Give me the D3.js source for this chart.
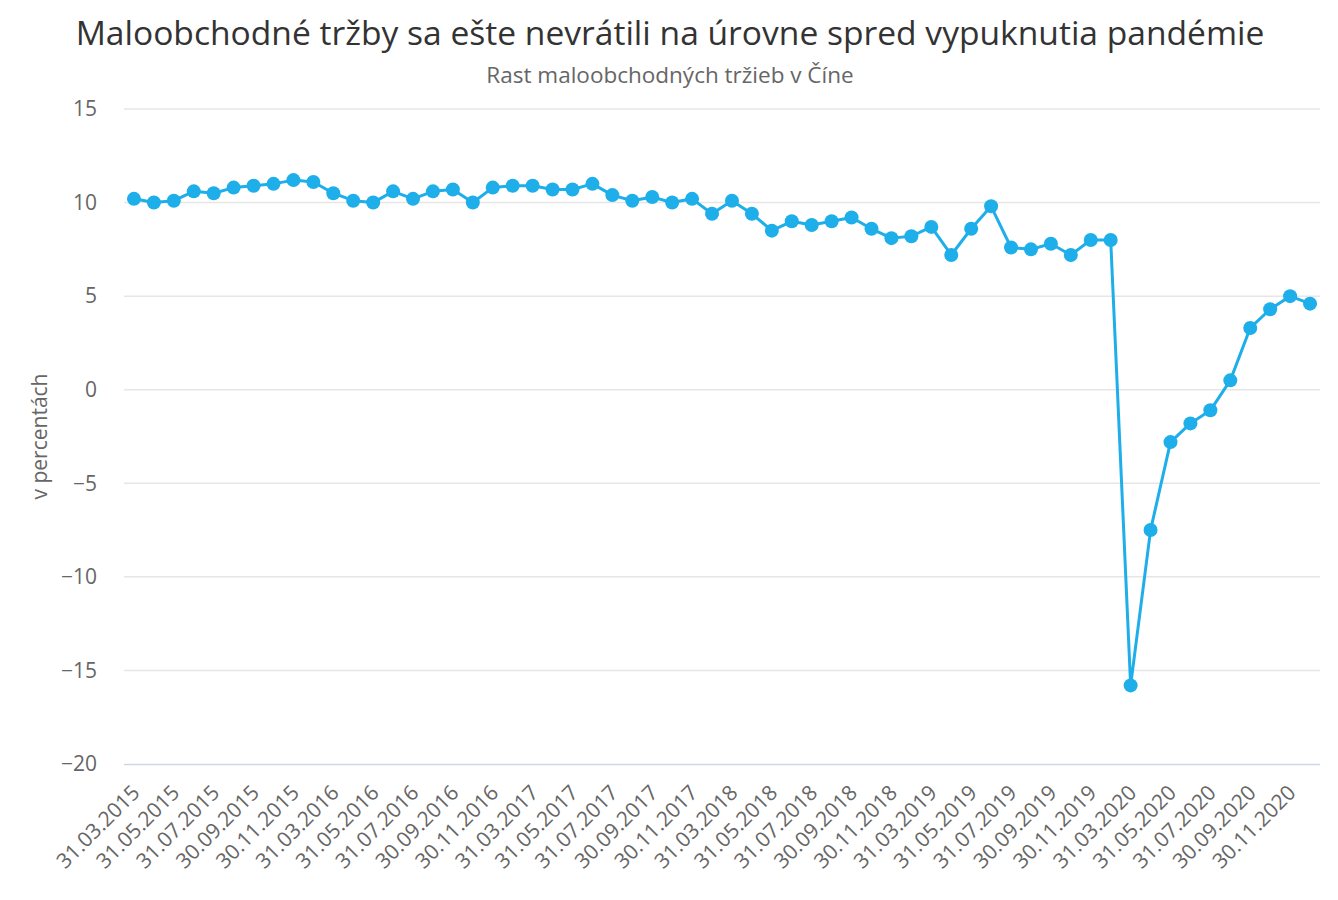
<!DOCTYPE html>
<html><head><meta charset="utf-8">
<script src="https://cdn.jsdelivr.net/npm/d3@7"></script>
<style>body{margin:0;background:#fff;} svg{display:block;font-family:"Open Sans",sans-serif;}</style>
</head><body><svg id="c" width="1338" height="900"></svg>
<script>
const years = [2015, 2016, 2017, 2018, 2019, 2020];
const monthEnds = ["31.03", "30.04", "31.05", "30.06", "31.07", "31.08", "30.09", "31.10", "30.11", "31.12"];
const categories = years.flatMap(y => monthEnds.map(m => m + "." + y));
const values = [
  10.2, 10.0, 10.1, 10.6, 10.5, 10.8, 10.9, 11.0, 11.2, 11.1,
  10.5, 10.1, 10.0, 10.6, 10.2, 10.6, 10.7, 10.0, 10.8, 10.9,
  10.9, 10.7, 10.7, 11.0, 10.4, 10.1, 10.3, 10.0, 10.2, 9.4,
  10.1, 9.4, 8.5, 9.0, 8.8, 9.0, 9.2, 8.6, 8.1, 8.2,
  8.7, 7.2, 8.6, 9.8, 7.6, 7.5, 7.8, 7.2, 8.0, 8.0,
  -15.8, -7.5, -2.8, -1.8, -1.1, 0.5, 3.3, 4.3, 5.0, 4.6
];
const yTicks = [15, 10, 5, 0, -5, -10, -15, -20];
const title = "Maloobchodné tržby sa ešte nevrátili na úrovne spred vypuknutia pandémie";
const subtitle = "Rast maloobchodných tržieb v Číne";
const yTitle = "v percentách";

const svg = d3.select("#c");
const L = 124, R = 1320, T = 109, B = 764;
const x = d3.scaleBand().domain(categories).range([L, R]);
const y = d3.scaleLinear().domain([-20, 15]).range([B, T]);

svg.append("text").attr("x", 670).attr("y", 45).attr("text-anchor", "middle")
  .attr("font-size", 33.6).attr("fill", "#333").text(title);
svg.append("text").attr("x", 670).attr("y", 83).attr("text-anchor", "middle")
  .attr("font-size", 22.5).attr("fill", "#666").text(subtitle);

// grid
svg.append("g").selectAll("line").data(yTicks.filter(t => t !== -20)).join("line")
  .attr("x1", L).attr("x2", R).attr("y1", d => y(d)).attr("y2", d => y(d))
  .attr("stroke", "#e6e6e6").attr("stroke-width", 1.5);

// y axis
const ya = svg.append("g").attr("transform", `translate(${L},0)`)
  .call(d3.axisLeft(y).tickValues(yTicks).tickSize(0).tickPadding(27).tickFormat(d => d < 0 ? "−" + Math.abs(d) : d));
ya.select(".domain").remove();
ya.selectAll("text").attr("font-size", 21).attr("fill", "#666").attr("font-family", "Open Sans");

svg.append("text").attr("transform", `translate(47,${(T + B) / 2}) rotate(-90)`)
  .attr("text-anchor", "middle").attr("font-size", 21).attr("fill", "#666").text(yTitle);

// x axis
svg.append("line").attr("x1", L).attr("x2", R).attr("y1", B + 0.5).attr("y2", B + 0.5)
  .attr("stroke", "#ccd6eb").attr("stroke-width", 1.5);
const xa = svg.append("g").attr("transform", `translate(0,${B})`)
  .call(d3.axisBottom(x).tickValues(categories.filter((c, i) => i % 2 === 0)).tickSize(0));
xa.select(".domain").remove();
xa.selectAll("text").attr("font-size", 21).attr("fill", "#666").attr("font-family", "Open Sans")
  .attr("text-anchor", "end").attr("dy", null).attr("y", 0)
  .attr("transform", "translate(7,30) rotate(-45)");

// line
const cx = d => x(d) + x.bandwidth() / 2;
const pts = categories.map((c, i) => [cx(c), y(values[i])]);
svg.append("path").datum(pts).attr("d", d3.line()).attr("fill", "none")
  .attr("stroke", "#1eaee9").attr("stroke-width", 3).attr("stroke-linejoin", "round");
svg.append("g").selectAll("circle").data(pts).join("circle")
  .attr("cx", d => d[0]).attr("cy", d => d[1]).attr("r", 7).attr("fill", "#1eaee9");
</script></body></html>
